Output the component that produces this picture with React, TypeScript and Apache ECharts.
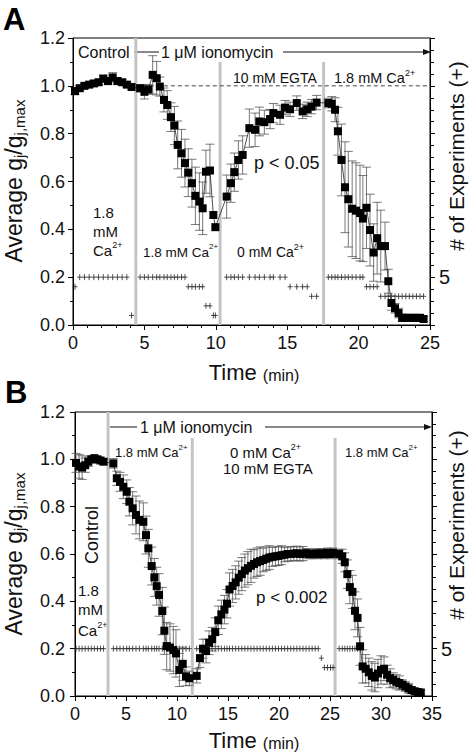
import { useEffect, useRef } from 'react';
import * as echarts from 'echarts';

const FONT = '"Liberation Sans", Arial, Helvetica, sans-serif';

// ---------------- Panel A data ----------------
const xMaxA = 25;
const timeA = [
  0.14, 0.47, 0.8, 1.13, 1.46, 1.79, 2.12, 2.45, 2.78, 3.11, 3.44, 3.77, 4.1,
  4.7, 5.0, 5.27, 5.58, 5.86, 6.08, 6.37, 6.6, 6.86, 7.1, 7.33, 7.6, 7.84, 8.07, 8.33, 8.57, 8.85, 9.08, 9.31, 9.59, 9.83, 9.97,
  10.76, 11.06, 11.3, 11.58, 11.88, 12.35, 12.75, 13.05, 13.4, 13.8, 14.03, 14.5, 14.85, 15.2, 15.67, 16.08, 16.4, 16.71, 17.06,
  17.88, 18.12, 18.35, 18.55, 18.8, 19.05, 19.28, 19.55, 19.82, 20.1, 20.3, 20.55, 20.8, 21.05, 21.3, 21.55, 21.85, 22.08, 22.3,
  22.55, 22.8, 23.05, 23.3, 23.55, 23.8, 24.05, 24.3, 24.55,
];
const meanA = [
  0.978, 0.99, 1.0, 1.005, 1.01, 1.015, 1.03, 1.02, 1.035, 1.02, 1.015, 1.005, 0.995,
  0.99, 0.975, 0.985, 1.046, 1.032, 0.997, 0.941, 0.92, 0.869, 0.834, 0.753, 0.718, 0.677, 0.637, 0.593, 0.54, 0.516, 0.488, 0.641, 0.646, 0.46, 0.409,
  0.537, 0.593, 0.639, 0.69, 0.711, 0.823, 0.816, 0.851, 0.848, 0.861, 0.886, 0.879, 0.909, 0.902, 0.928, 0.893, 0.902, 0.913, 0.93,
  0.928, 0.925, 0.9, 0.81, 0.69, 0.576, 0.526, 0.486, 0.478, 0.468, 0.445, 0.49, 0.397, 0.303, 0.363, 0.33, 0.33, 0.183, 0.092,
  0.07, 0.05, 0.03, 0.03, 0.03, 0.03, 0.03, 0.03, 0.025,
];
const errA = [
  0.015, 0.01, 0.01, 0.01, 0.012, 0.012, 0.015, 0.015, 0.02, 0.015, 0.012, 0.01, 0,
  0.015, 0.03, 0.02, 0.08, 0.07, 0.04, 0.05, 0.06, 0.06, 0.08, 0.1, 0.1, 0.1, 0.1, 0.1, 0.12, 0.12, 0.11, 0.09, 0.11, 0, 0,
  0.09, 0.08, 0.08, 0.08, 0.08, 0.08, 0.07, 0.06, 0.05, 0.04, 0.04, 0.04, 0.03, 0.03, 0.03, 0.03, 0.03, 0.03, 0.03,
  0.02, 0.03, 0.05, 0.1, 0.15, 0.19, 0.2, 0.2, 0.2, 0.2, 0.18, 0.17, 0.15, 0.12, 0.15, 0.15, 0.1, 0.05, 0.03,
  0.02, 0.02, 0.015, 0.01, 0.01, 0.01, 0.01, 0.01, 0.01,
];
const nA = [
  4, 5, 5, 5, 5, 5, 5, 5, 5, 5, 5, 5, 1,
  5, 5, 5, 5, 5, 5, 5, 5, 5, 5, 5, 5, 5, 4, 4, 4, 4, 4, 2, 2, 1, 1,
  5, 5, 5, 5, 5, 5, 5, 5, 5, 5, 5, 5, 5, 4, 4, 4, 4, 3, 3,
  5, 5, 5, 5, 5, 5, 5, 5, 5, 5, 5, 4, 4, 4, 4, 3, 3, 3, 3,
  3, 3, 3, 3, 3, 3, 3, 3, 3,
];
const switchA = [4.4, 10.3, 17.55];
const switchTopA = [1.2, 1.1, 1.1];
const refLevelA = 1.0;
const refStartA = 4.4;

// ---------------- Panel B data ----------------
const xMaxB = 35;
const timeB = [
  0.1, 0.4, 0.7, 1.0, 1.3, 1.6, 1.9, 2.2, 2.5, 2.8,
  3.76, 4.1, 4.41, 4.74, 5.07, 5.33, 5.65, 5.98, 6.31, 6.7, 6.96, 7.19, 7.52, 7.78, 8.01, 8.24, 8.56, 8.76, 8.99, 9.31,
  9.64, 9.9, 10.23, 10.56, 10.88, 11.21,
  11.93, 12.25, 12.55, 12.85, 13.15, 13.45, 13.75, 14.05, 14.35, 14.65, 14.9, 15.15, 15.45, 15.75, 16.05, 16.35, 16.65,
  16.95, 17.25, 17.55, 17.85, 18.15, 18.45, 18.75, 19.05, 19.35, 19.65, 19.95, 20.25, 20.55, 20.85, 21.15, 21.45, 21.75,
  22.05, 22.35, 22.65, 22.95, 23.25, 23.55, 23.85, 24.15, 24.45, 24.75, 25.05, 25.3,
  25.9, 26.2, 26.45, 26.7, 26.95, 27.2, 27.45, 27.7, 27.95, 28.2, 28.5, 28.8, 29.1, 29.4, 29.7, 30.0, 30.3, 30.6, 30.9,
  31.2, 31.5, 31.8, 32.1, 32.4, 32.7, 33.0, 33.3, 33.6, 33.9,
];
const meanB = [
  0.985, 0.97, 0.965, 0.975, 0.99, 1.0, 1.005, 1.0, 0.995, 0.99,
  0.983, 0.92, 0.905, 0.884, 0.863, 0.821, 0.793, 0.765, 0.744, 0.736, 0.68, 0.624, 0.549, 0.501, 0.464, 0.427, 0.359, 0.276, 0.211, 0.205,
  0.194, 0.18, 0.11, 0.136, 0.083, 0.075,
  0.085, 0.16, 0.2, 0.19, 0.225, 0.24, 0.27, 0.32, 0.345, 0.365, 0.39, 0.45, 0.465, 0.48, 0.5, 0.515, 0.53,
  0.54, 0.55, 0.558, 0.565, 0.57, 0.575, 0.58, 0.585, 0.588, 0.59, 0.592, 0.595, 0.597, 0.6, 0.6, 0.602, 0.603,
  0.6, 0.602, 0.603, 0.6, 0.6, 0.602, 0.6, 0.603, 0.6, 0.605, 0.6, 0.605,
  0.6, 0.59, 0.565, 0.515, 0.46, 0.44, 0.36, 0.33, 0.21, 0.125, 0.115, 0.1, 0.085, 0.078, 0.095, 0.11, 0.115, 0.09, 0.075,
  0.068, 0.06, 0.055, 0.048, 0.04, 0.032, 0.025, 0.02, 0.017, 0.015,
];
const errB = [
  0.04, 0.05, 0.05, 0.03, 0.02, 0.015, 0.01, 0.01, 0.01, 0.01,
  0.02, 0.03, 0.04, 0.05, 0.05, 0.06, 0.07, 0.08, 0.08, 0.08, 0.08, 0.08, 0.08, 0.08, 0.08, 0.09, 0.1, 0.1, 0.1, 0.1,
  0.1, 0.1, 0.07, 0.07, 0.04, 0.03,
  0.03, 0.04, 0.04, 0.05, 0.05, 0.05, 0.06, 0.06, 0.06, 0.06, 0.06, 0.07, 0.07, 0.07, 0.07, 0.07, 0.07,
  0.07, 0.07, 0.06, 0.06, 0.06, 0.05, 0.05, 0.05, 0.04, 0.04, 0.04, 0.04, 0.03, 0.03, 0.03, 0.03, 0.03,
  0.03, 0.03, 0.02, 0.02, 0.02, 0.02, 0.02, 0.02, 0.02, 0.02, 0.02, 0.02,
  0.02, 0.03, 0.04, 0.06, 0.07, 0.07, 0.08, 0.08, 0.08, 0.07, 0.06, 0.06, 0.06, 0.06, 0.06, 0.06, 0.05, 0.04, 0.04,
  0.03, 0.03, 0.03, 0.02, 0.02, 0.02, 0.015, 0.01, 0.01, 0.01,
];
const nB = [
  5, 5, 5, 5, 5, 5, 5, 5, 5, 5,
  5, 5, 5, 5, 5, 5, 5, 5, 5, 5, 5, 5, 5, 5, 5, 5, 5, 5, 5, 5,
  5, 5, 5, 5, 5, 5,
  5, 5, 5, 5, 5, 5, 5, 5, 5, 5, 5, 5, 5, 5, 5, 5, 5,
  5, 5, 5, 5, 5, 5, 5, 5, 5, 5, 5, 5, 5, 5, 5, 5, 5,
  5, 5, 5, 5, 5, 5, 5, 4, 3, 3, 3, 3,
  5, 5, 5, 5, 5, 5, 5, 5, 5, null, null, null, null, null, null, null, null, null, null,
  null, null, null, null, null, null, null, null, null, null,
];
const switchB = [3.24, 11.5, 25.5];
const switchTopB = [1.2, 1.09, 1.09];

// axis ranges
const yMax = 1.2;
const yInterval = 0.2;
const nMax = 30;
const nInterval = 5;
const nLabelShown = 5;

const GRIDS = [
  { left: 73, top: 38, width: 357, height: 287 },
  { left: 75, top: 412, width: 357, height: 284 },
];

function supText(x: number, y: number, text: string, fs: number, extra: any = {}) {
  const { style: extraStyle, ...rest } = extra;
  return {
    type: 'text',
    x,
    y,
    silent: true,
    ...rest,
    style: {
      text,
      fontSize: fs,
      fontFamily: FONT,
      fill: '#111',
      align: 'left',
      verticalAlign: 'middle',
      lineHeight: fs + 5,
      rich: {
        sup: { fontSize: Math.round(fs * 0.62), fontFamily: FONT, fill: '#111', verticalAlign: 'top' },
        sub: { fontSize: Math.round(fs * 0.65), fontFamily: FONT, fill: '#111', verticalAlign: 'bottom' },
        s: { fontSize: Math.round(fs * 0.73), fontFamily: FONT, fill: '#111', verticalAlign: 'bottom' },
      },
      ...(extraStyle || {}),
    },
  };
}

function hline(x1: number, x2: number, y: number) {
  return { type: 'line', silent: true, shape: { x1, y1: y, x2, y2: y }, style: { stroke: '#111', lineWidth: 1 } };
}
function arrowHead(x: number, y: number) {
  return { type: 'polygon', silent: true, shape: { points: [[x - 8, y - 3], [x, y], [x - 8, y + 3]] }, style: { fill: '#111' } };
}

function panelSeries(gi: number, time: number[], mean: number[], err: number[], n: (number | null)[], sw: number[], swTop: number[], ref?: { level: number; start: number; end: number }) {
  const series: any[] = [];
  series.push({
    type: 'custom',
    xAxisIndex: gi,
    yAxisIndex: gi * 2,
    silent: true,
    z: 1,
    data: sw.map((t, i) => [t, swTop[i]]),
    renderItem: (_p: any, api: any) => {
      const a = api.coord([api.value(0), 0]);
      const b = api.coord([api.value(0), api.value(1)]);
      return { type: 'line', shape: { x1: a[0], y1: a[1], x2: b[0], y2: b[1] }, style: { stroke: '#c4c4c4', lineWidth: 3 } };
    },
  });
  if (ref) {
    series.push({
      type: 'line',
      xAxisIndex: gi,
      yAxisIndex: gi * 2,
      silent: true,
      z: 2,
      showSymbol: false,
      symbol: 'none',
      data: [[ref.start, ref.level], [ref.end, ref.level]],
      lineStyle: { color: '#444', width: 1, type: [4, 3] },
    });
  }
  series.push({
    type: 'custom',
    xAxisIndex: gi,
    yAxisIndex: gi * 2 + 1,
    silent: true,
    z: 3,
    data: time.map((t, i) => [t, n[i]]).filter((d) => d[1] != null),
    renderItem: (_p: any, api: any) => {
      const p = api.coord([api.value(0), api.value(1)]);
      const s = { stroke: '#222', lineWidth: 0.8 };
      return {
        type: 'group',
        children: [
          { type: 'line', shape: { x1: p[0] - 2.5, y1: p[1], x2: p[0] + 2.5, y2: p[1] }, style: s },
          { type: 'line', shape: { x1: p[0], y1: p[1] - 3, x2: p[0], y2: p[1] + 3 }, style: s },
        ],
      };
    },
  });
  series.push({
    type: 'custom',
    xAxisIndex: gi,
    yAxisIndex: gi * 2,
    silent: true,
    z: 4,
    data: time.map((t, i) => [t, mean[i], err[i] || 0]),
    renderItem: (_p: any, api: any) => {
      const t = api.value(0);
      const m = api.value(1);
      const e = api.value(2);
      if (!e) return { type: 'group', children: [] };
      const top = api.coord([t, m + e]);
      const bot = api.coord([t, m - e]);
      const hw = 4.5;
      const s = { stroke: '#555', lineWidth: 0.8 };
      return {
        type: 'group',
        children: [
          { type: 'line', shape: { x1: top[0], y1: top[1], x2: bot[0], y2: bot[1] }, style: s },
          { type: 'line', shape: { x1: top[0] - hw, y1: top[1], x2: top[0] + hw, y2: top[1] }, style: s },
          { type: 'line', shape: { x1: bot[0] - hw, y1: bot[1], x2: bot[0] + hw, y2: bot[1] }, style: s },
        ],
      };
    },
  });
  series.push({
    type: 'line',
    xAxisIndex: gi,
    yAxisIndex: gi * 2,
    silent: true,
    z: 5,
    data: time.map((t, i) => [t, mean[i]]),
    symbol: 'rect',
    symbolSize: 8,
    showAllSymbol: true,
    itemStyle: { color: '#000' },
    lineStyle: { color: '#222', width: 0.8 },
  });
  return series;
}

function buildOption() {
  const tickLabel = { fontFamily: FONT, fontSize: 18, color: '#111' };
  const xAxis = [xMaxA, xMaxB].map((mx, i) => ({
    gridIndex: i,
    type: 'value',
    min: 0,
    max: mx,
    interval: 5,
    axisLine: { show: true, onZero: false, lineStyle: { color: '#000', width: 1 } },
    axisTick: { show: true, length: 5, lineStyle: { color: '#000', width: 1 } },
    minorTick: { show: true, splitNumber: 5, length: 3, lineStyle: { color: '#000', width: 1 } },
    axisLabel: { ...tickLabel, margin: 9 },
    splitLine: { show: false },
    minorSplitLine: { show: false },
  }));
  const yAxis: any[] = [];
  [0, 1].forEach((i) => {
    yAxis.push({
      gridIndex: i,
      type: 'value',
      position: 'left',
      min: 0,
      max: yMax,
      interval: yInterval,
      axisLine: { show: true, onZero: false, lineStyle: { color: '#000', width: 1 } },
      axisTick: { show: true, length: 5, lineStyle: { color: '#000', width: 1 } },
      minorTick: { show: true, splitNumber: 2, length: 3, lineStyle: { color: '#000', width: 1 } },
      axisLabel: { ...tickLabel, margin: i === 0 ? 8 : 10, formatter: (v: number) => v.toFixed(1) },
      splitLine: { show: false },
    });
    yAxis.push({
      gridIndex: i,
      type: 'value',
      position: 'right',
      min: 0,
      max: nMax,
      interval: nInterval,
      axisLine: { show: true, onZero: false, lineStyle: { color: '#000', width: 1 } },
      axisTick: { show: true, length: 5, lineStyle: { color: '#000', width: 1 } },
      minorTick: { show: true, splitNumber: 4, length: 4, lineStyle: { color: '#000', width: 1 } },
      axisLabel: { fontFamily: FONT, fontSize: 20, color: '#111', margin: 9, formatter: (v: number) => (v === nLabelShown ? String(v) : '') },
      splitLine: { show: false },
    });
  });

  const graphic: any[] = [
    // panel letters
    { type: 'text', x: 3, y: 19, silent: true, style: { text: 'A', fontSize: 31, fontWeight: 'bold', fontFamily: FONT, fill: '#000', verticalAlign: 'middle', lineHeight: 31 } },
    { type: 'text', x: 5, y: 392, silent: true, style: { text: 'B', fontSize: 31, fontWeight: 'bold', fontFamily: FONT, fill: '#000', verticalAlign: 'middle', lineHeight: 31 } },
    // axis titles
    supText(14, 181, 'Average g{sub|j}/g{sub|j,max}', 23, { rotation: Math.PI / 2, style: { align: 'center', lineHeight: 25 } }),
    supText(14, 554, 'Average g{sub|j}/g{sub|j,max}', 23, { rotation: Math.PI / 2, style: { align: 'center', lineHeight: 25 } }),
    supText(456, 156, '# of Experiments (+)', 21, { rotation: Math.PI / 2, style: { align: 'center' } }),
    supText(456, 525, '# of Experiments (+)', 21, { rotation: Math.PI / 2, style: { align: 'center' } }),
    supText(254, 372, 'Time {s|(min)}', 22, { style: { align: 'center', lineHeight: 22 } }),
    supText(254, 740, 'Time {s|(min)}', 22, { style: { align: 'center', lineHeight: 22 } }),
    // panel A annotations
    supText(78, 52, 'Control', 16),
    hline(134, 159, 52),
    supText(161, 52, '1 \u03bcM ionomycin', 16),
    hline(283, 428, 52),
    arrowHead(431, 52),
    supText(233, 78, '10 mM EGTA', 14),
    supText(334, 78, '1.8 mM Ca{sup|2+}', 14.5),
    supText(254, 163, 'p < 0.05', 18),
    supText(93, 212, '1.8', 15),
    supText(93, 231, 'mM', 15),
    supText(93, 250, 'Ca{sup|2+}', 15),
    supText(143, 252, '1.8 mM Ca{sup|2+}', 13.5),
    supText(237, 252, '0 mM Ca{sup|2+}', 14),
    // panel B annotations
    hline(110, 137, 427),
    supText(140, 427, '1 \u03bcM ionomycin', 16),
    hline(265, 429, 427),
    arrowHead(432, 427),
    supText(115, 452, '1.8 mM Ca{sup|2+}', 13),
    supText(230, 452, '0 mM Ca{sup|2+}', 15),
    supText(223, 468, '10 mM EGTA', 15),
    supText(345, 452, '1.8 mM Ca{sup|2+}', 13),
    supText(92, 535, 'Control', 18, { rotation: Math.PI / 2, style: { align: 'center' } }),
    supText(78, 590, '1.8', 15),
    supText(78, 609, 'mM', 15),
    supText(78, 630, 'Ca{sup|2+}', 15),
    supText(256, 597, 'p < 0.002', 17),
  ];

  return {
    animation: false,
    backgroundColor: '#fff',
    grid: GRIDS.map((g) => ({ ...g, containLabel: false, show: true, borderColor: '#000', borderWidth: 1, backgroundColor: 'transparent' })),
    xAxis,
    yAxis,
    series: [
      ...panelSeries(0, timeA, meanA, errA, nA, switchA, switchTopA, { level: refLevelA, start: refStartA, end: xMaxA }),
      ...panelSeries(1, timeB, meanB, errB, nB, switchB, switchTopB),
    ],
    graphic,
  };
}

export default function App() {
  const ref = useRef<HTMLDivElement>(null);
  useEffect(() => {
    if (!ref.current) return;
    const chart = echarts.init(ref.current, undefined, { renderer: 'svg' });
    chart.setOption(buildOption() as any);
    return () => chart.dispose();
  }, []);
  return <div ref={ref} style={{ position: 'fixed', left: 0, top: 0, width: 472, height: 752, background: '#fff' }} />;
}
